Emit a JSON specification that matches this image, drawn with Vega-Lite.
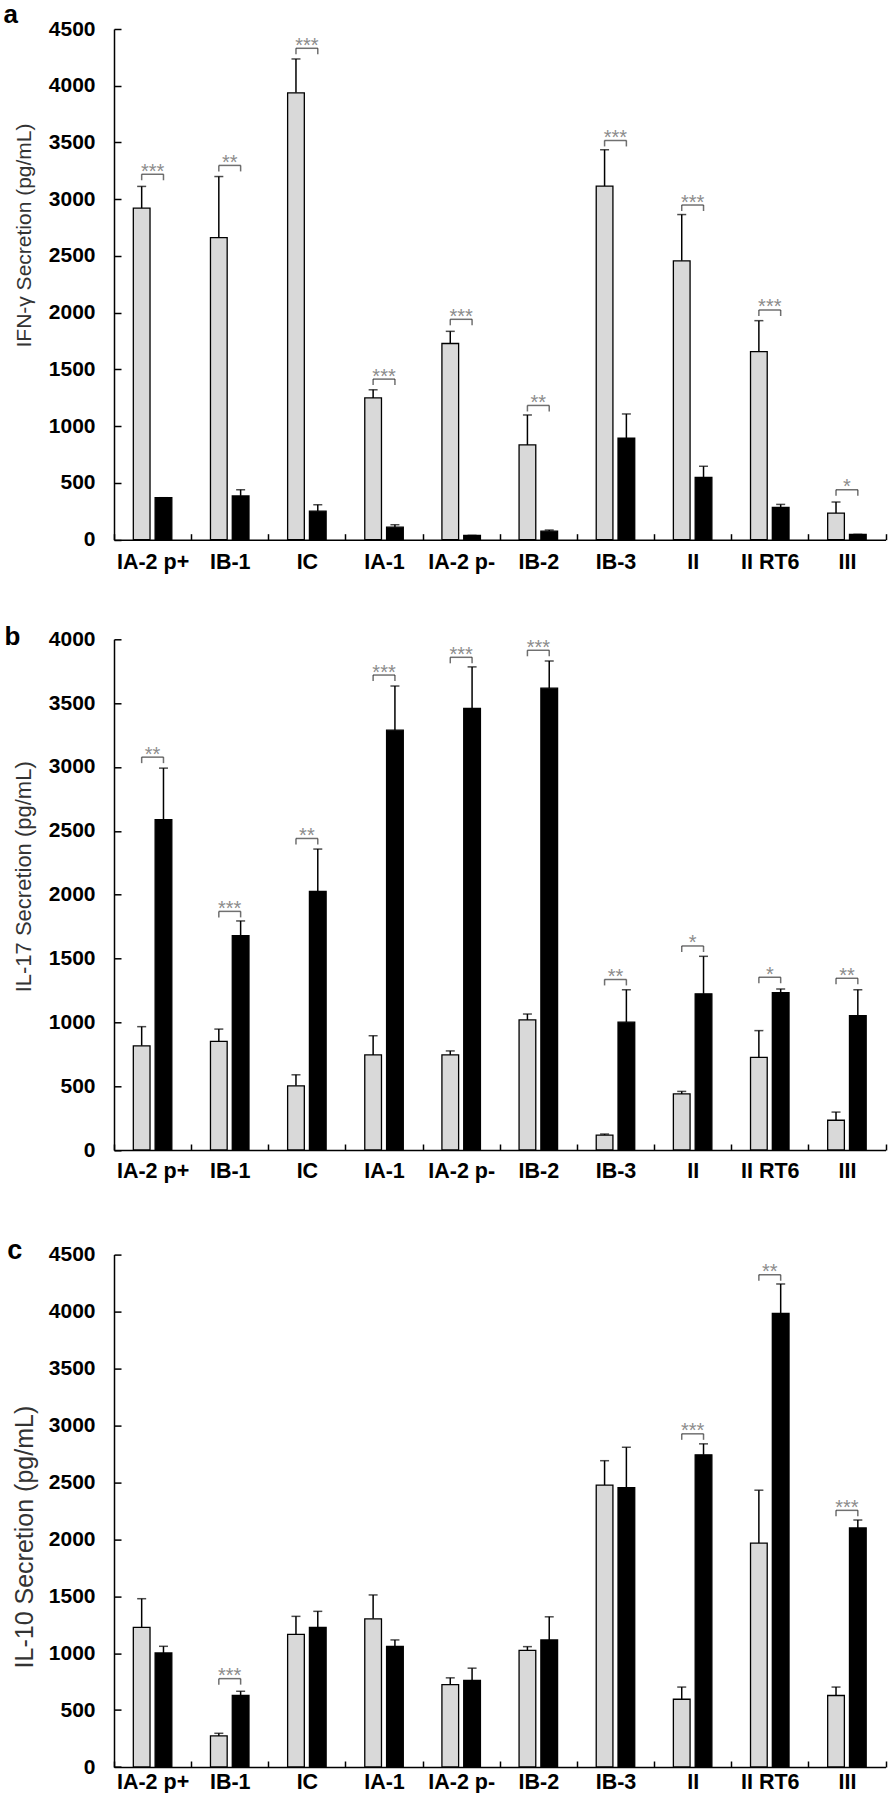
{
"$schema": "https://vega.github.io/schema/vega-lite/v6.json",
"padding": {"left": 3, "top": 2, "right": 0, "bottom": 0},
"background": "white",
"config": {"view": {"stroke": null}, "axis": {"grid": false}, "font": "Liberation Sans"},
"datasets": {
"bars": [
{"panel":"a","cat":"IA-2 p+","group":"Group 1","value":2921,"upper":3113},
{"panel":"a","cat":"IA-2 p+","group":"Group 2","value":370,"upper":370},
{"panel":"a","cat":"IB-1","group":"Group 1","value":2661,"upper":3200},
{"panel":"a","cat":"IB-1","group":"Group 2","value":386,"upper":440},
{"panel":"a","cat":"IC","group":"Group 1","value":3938,"upper":4236},
{"panel":"a","cat":"IC","group":"Group 2","value":251,"upper":308},
{"panel":"a","cat":"IA-1","group":"Group 1","value":1249,"upper":1321},
{"panel":"a","cat":"IA-1","group":"Group 2","value":110,"upper":132},
{"panel":"a","cat":"IA-2 p-","group":"Group 1","value":1729,"upper":1836},
{"panel":"a","cat":"IA-2 p-","group":"Group 2","value":38,"upper":38},
{"panel":"a","cat":"IB-2","group":"Group 1","value":835,"upper":1099},
{"panel":"a","cat":"IB-2","group":"Group 2","value":75,"upper":85},
{"panel":"a","cat":"IB-3","group":"Group 1","value":3116,"upper":3436},
{"panel":"a","cat":"IB-3","group":"Group 2","value":894,"upper":1108},
{"panel":"a","cat":"II","group":"Group 1","value":2457,"upper":2865},
{"panel":"a","cat":"II","group":"Group 2","value":549,"upper":647},
{"panel":"a","cat":"II RT6","group":"Group 1","value":1657,"upper":1930},
{"panel":"a","cat":"II RT6","group":"Group 2","value":285,"upper":311},
{"panel":"a","cat":"III","group":"Group 1","value":235,"upper":332},
{"panel":"a","cat":"III","group":"Group 2","value":47,"upper":47},
{"panel":"b","cat":"IA-2 p+","group":"Group 1","value":816,"upper":966},
{"panel":"b","cat":"IA-2 p+","group":"Group 2","value":2587,"upper":2991},
{"panel":"b","cat":"IB-1","group":"Group 1","value":851,"upper":947},
{"panel":"b","cat":"IB-1","group":"Group 2","value":1679,"upper":1794},
{"panel":"b","cat":"IC","group":"Group 1","value":503,"upper":589},
{"panel":"b","cat":"IC","group":"Group 2","value":2025,"upper":2357},
{"panel":"b","cat":"IA-1","group":"Group 1","value":745,"upper":895},
{"panel":"b","cat":"IA-1","group":"Group 2","value":3288,"upper":3634},
{"panel":"b","cat":"IA-2 p-","group":"Group 1","value":745,"upper":776},
{"panel":"b","cat":"IA-2 p-","group":"Group 2","value":3458,"upper":3784},
{"panel":"b","cat":"IB-2","group":"Group 1","value":1019,"upper":1065},
{"panel":"b","cat":"IB-2","group":"Group 2","value":3617,"upper":3830},
{"panel":"b","cat":"IB-3","group":"Group 1","value":116,"upper":125},
{"panel":"b","cat":"IB-3","group":"Group 2","value":1001,"upper":1255},
{"panel":"b","cat":"II","group":"Group 1","value":439,"upper":459},
{"panel":"b","cat":"II","group":"Group 2","value":1223,"upper":1517},
{"panel":"b","cat":"II RT6","group":"Group 1","value":725,"upper":935},
{"panel":"b","cat":"II RT6","group":"Group 2","value":1232,"upper":1261},
{"panel":"b","cat":"III","group":"Group 1","value":233,"upper":297},
{"panel":"b","cat":"III","group":"Group 2","value":1053,"upper":1255},
{"panel":"c","cat":"IA-2 p+","group":"Group 1","value":1227,"upper":1478},
{"panel":"c","cat":"IA-2 p+","group":"Group 2","value":1001,"upper":1060},
{"panel":"c","cat":"IB-1","group":"Group 1","value":273,"upper":296},
{"panel":"c","cat":"IB-1","group":"Group 2","value":628,"upper":665},
{"panel":"c","cat":"IC","group":"Group 1","value":1164,"upper":1323},
{"panel":"c","cat":"IC","group":"Group 2","value":1227,"upper":1367},
{"panel":"c","cat":"IA-1","group":"Group 1","value":1301,"upper":1511},
{"panel":"c","cat":"IA-1","group":"Group 2","value":1060,"upper":1116},
{"panel":"c","cat":"IA-2 p-","group":"Group 1","value":724,"upper":783},
{"panel":"c","cat":"IA-2 p-","group":"Group 2","value":761,"upper":868},
{"panel":"c","cat":"IB-2","group":"Group 1","value":1024,"upper":1057},
{"panel":"c","cat":"IB-2","group":"Group 2","value":1116,"upper":1319},
{"panel":"c","cat":"IB-3","group":"Group 1","value":2476,"upper":2690},
{"panel":"c","cat":"IB-3","group":"Group 2","value":2453,"upper":2808},
{"panel":"c","cat":"II","group":"Group 1","value":595,"upper":702},
{"panel":"c","cat":"II","group":"Group 2","value":2742,"upper":2838},
{"panel":"c","cat":"II RT6","group":"Group 1","value":1966,"upper":2431},
{"panel":"c","cat":"II RT6","group":"Group 2","value":3983,"upper":4242},
{"panel":"c","cat":"III","group":"Group 1","value":628,"upper":702},
{"panel":"c","cat":"III","group":"Group 2","value":2099,"upper":2169}
],
"sig": [
{"panel":"a","cat":"IA-2 p+","sig":"***","bracket":3220},
{"panel":"a","cat":"IB-1","sig":"**","bracket":3298},
{"panel":"a","cat":"IC","sig":"***","bracket":4330},
{"panel":"a","cat":"IA-1","sig":"***","bracket":1415},
{"panel":"a","cat":"IA-2 p-","sig":"***","bracket":1942},
{"panel":"a","cat":"IB-2","sig":"**","bracket":1183},
{"panel":"a","cat":"IB-3","sig":"***","bracket":3518},
{"panel":"a","cat":"II","sig":"***","bracket":2949},
{"panel":"a","cat":"II RT6","sig":"***","bracket":2024},
{"panel":"a","cat":"III","sig":"*","bracket":440},
{"panel":"b","cat":"IA-2 p+","sig":"**","bracket":3077},
{"panel":"b","cat":"IB-1","sig":"***","bracket":1869},
{"panel":"b","cat":"IC","sig":"**","bracket":2440},
{"panel":"b","cat":"IA-1","sig":"***","bracket":3720},
{"panel":"b","cat":"IA-2 p-","sig":"***","bracket":3859},
{"panel":"b","cat":"IB-2","sig":"***","bracket":3914},
{"panel":"b","cat":"IB-3","sig":"**","bracket":1336},
{"panel":"b","cat":"II","sig":"*","bracket":1598},
{"panel":"b","cat":"II RT6","sig":"*","bracket":1353},
{"panel":"b","cat":"III","sig":"**","bracket":1345},
{"panel":"c","cat":"IB-1","sig":"***","bracket":776},
{"panel":"c","cat":"II","sig":"***","bracket":2926},
{"panel":"c","cat":"II RT6","sig":"**","bracket":4323},
{"panel":"c","cat":"III","sig":"***","bracket":2254}
]
},
"bounds": "flush",
"spacing": 99.3,
"vconcat": [
{
"width": 771.5, "height": 510.7,
"title": {"text": "a", "orient": "left", "anchor": "end", "frame": "group", "angle": 0, "align": "left", "baseline": "alphabetic", "offset": -4, "dy": -6, "fontSize": 26, "fontWeight": "bold", "font": "Liberation Sans", "color": "black"},
"encoding": {
"x": {"field": "cat", "type": "nominal", "sort": ["IA-2 p+","IB-1","IC","IA-1","IA-2 p-","IB-2","IB-3","II","II RT6","III"], "scale": {"paddingInner": 0, "paddingOuter": 0},
"axis": {"title": null, "labelAngle": 0, "labelFont": "Liberation Sans", "labelFontSize": 21.5, "labelFontWeight": "bold", "labelColor": "black", "labelPadding": 17.5, "tickSize": -6, "tickBand": "extent", "tickColor": "black", "tickWidth": 1.5, "domainColor": "black", "domainWidth": 1.5}},
"y": {"type": "quantitative", "scale": {"domain": [0, 4500], "nice": false},
"axis": {"title": "IFN-γ Secretion (pg/mL)", "values": [0,500,1000,1500,2000,2500,3000,3500,4000,4500], "format": "d", "labelFont": "Liberation Sans", "labelFontSize": 21, "labelFontWeight": "bold", "labelColor": "black", "labelPadding": 26, "tickSize": -7, "tickColor": "black", "tickWidth": 1.5, "domainColor": "black", "domainWidth": 1.5, "titleFont": "Liberation Sans", "titleFontSize": 21, "titleFontWeight": "normal", "titleColor": "#333333", "titlePadding": 13.4, "titleY": 206}}
},
"layer": [
{"data": {"name": "bars"}, "transform": [{"filter": "datum.panel === 'a'"}], "mark": {"type": "rule", "color": "black", "strokeWidth": 1.5},
 "encoding": {"xOffset": {"field": "group", "type": "nominal", "scale": {"domain": ["Group 1","Group 2"], "paddingInner": 0.234, "paddingOuter": 0.886}}, "y": {"field": "value"}, "y2": {"field": "upper"}}},
{"data": {"name": "bars"}, "transform": [{"filter": "datum.panel === 'a'"}], "mark": {"type": "tick", "color": "black", "thickness": 1.5, "size": 9},
 "encoding": {"xOffset": {"field": "group", "type": "nominal"}, "y": {"field": "upper"}}},
{"data": {"name": "bars"}, "transform": [{"filter": "datum.panel === 'a'"}], "mark": {"type": "bar", "stroke": "black", "strokeWidth": 1.3},
 "encoding": {"xOffset": {"field": "group", "type": "nominal"}, "y": {"field": "value"}, "fill": {"field": "group", "type": "nominal", "scale": {"domain": ["Group 1","Group 2"], "range": ["#d9d9d9","#000000"]}, "legend": null}}},
{"data": {"name": "sig"}, "transform": [{"filter": "datum.panel === 'a'"}], "mark": {"type": "tick", "color": "#333333", "thickness": 1.5, "size": 22},
 "encoding": {"y": {"field": "bracket"}}},
{"data": {"name": "sig"}, "transform": [{"filter": "datum.panel === 'a'"}], "mark": {"type": "tick", "orient": "vertical", "color": "#333333", "thickness": 1.5, "size": 6, "yOffset": 3},
 "encoding": {"xOffset": {"datum": "Group 1", "type": "nominal"}, "y": {"field": "bracket"}}},
{"data": {"name": "sig"}, "transform": [{"filter": "datum.panel === 'a'"}], "mark": {"type": "tick", "orient": "vertical", "color": "#333333", "thickness": 1.5, "size": 6, "yOffset": 3},
 "encoding": {"xOffset": {"datum": "Group 2", "type": "nominal"}, "y": {"field": "bracket"}}},
{"data": {"name": "sig"}, "transform": [{"filter": "datum.panel === 'a'"}], "mark": {"type": "text", "color": "#8c8c8c", "fontSize": 20, "font": "Liberation Sans", "baseline": "alphabetic", "dy": 3.5},
 "encoding": {"y": {"field": "bracket"}, "text": {"field": "sig"}}}
]
},
{
"bounds": "flush",
"spacing": 104.3,
"vconcat": [
{
"width": 771.5, "height": 510.7,
"title": {"text": "b", "orient": "left", "anchor": "end", "frame": "group", "angle": 0, "align": "left", "baseline": "alphabetic", "offset": -7.9, "dy": 6, "fontSize": 26, "fontWeight": "bold", "font": "Liberation Sans", "color": "black"},
"encoding": {
"x": {"field": "cat", "type": "nominal", "sort": ["IA-2 p+","IB-1","IC","IA-1","IA-2 p-","IB-2","IB-3","II","II RT6","III"], "scale": {"paddingInner": 0, "paddingOuter": 0},
"axis": {"title": null, "labelAngle": 0, "labelFont": "Liberation Sans", "labelFontSize": 21.5, "labelFontWeight": "bold", "labelColor": "black", "labelPadding": 16, "tickSize": -6, "tickBand": "extent", "tickColor": "black", "tickWidth": 1.5, "domainColor": "black", "domainWidth": 1.5}},
"y": {"type": "quantitative", "scale": {"domain": [0, 4000], "nice": false},
"axis": {"title": "IL-17 Secretion (pg/mL)", "values": [0,500,1000,1500,2000,2500,3000,3500,4000], "format": "d", "labelFont": "Liberation Sans", "labelFontSize": 21, "labelFontWeight": "bold", "labelColor": "black", "labelPadding": 26, "tickSize": -7, "tickColor": "black", "tickWidth": 1.5, "domainColor": "black", "domainWidth": 1.5, "titleFont": "Liberation Sans", "titleFontSize": 22, "titleFontWeight": "normal", "titleColor": "#333333", "titlePadding": 12.8, "titleY": 237}}
},
"layer": [
{"data": {"name": "bars"}, "transform": [{"filter": "datum.panel === 'b'"}], "mark": {"type": "rule", "color": "black", "strokeWidth": 1.5},
 "encoding": {"xOffset": {"field": "group", "type": "nominal", "scale": {"domain": ["Group 1","Group 2"], "paddingInner": 0.234, "paddingOuter": 0.886}}, "y": {"field": "value"}, "y2": {"field": "upper"}}},
{"data": {"name": "bars"}, "transform": [{"filter": "datum.panel === 'b'"}], "mark": {"type": "tick", "color": "black", "thickness": 1.5, "size": 9},
 "encoding": {"xOffset": {"field": "group", "type": "nominal"}, "y": {"field": "upper"}}},
{"data": {"name": "bars"}, "transform": [{"filter": "datum.panel === 'b'"}], "mark": {"type": "bar", "stroke": "black", "strokeWidth": 1.3},
 "encoding": {"xOffset": {"field": "group", "type": "nominal"}, "y": {"field": "value"}, "fill": {"field": "group", "type": "nominal", "scale": {"domain": ["Group 1","Group 2"], "range": ["#d9d9d9","#000000"]}, "legend": null}}},
{"data": {"name": "sig"}, "transform": [{"filter": "datum.panel === 'b'"}], "mark": {"type": "tick", "color": "#333333", "thickness": 1.5, "size": 22},
 "encoding": {"y": {"field": "bracket"}}},
{"data": {"name": "sig"}, "transform": [{"filter": "datum.panel === 'b'"}], "mark": {"type": "tick", "orient": "vertical", "color": "#333333", "thickness": 1.5, "size": 6, "yOffset": 3},
 "encoding": {"xOffset": {"datum": "Group 1", "type": "nominal"}, "y": {"field": "bracket"}}},
{"data": {"name": "sig"}, "transform": [{"filter": "datum.panel === 'b'"}], "mark": {"type": "tick", "orient": "vertical", "color": "#333333", "thickness": 1.5, "size": 6, "yOffset": 3},
 "encoding": {"xOffset": {"datum": "Group 2", "type": "nominal"}, "y": {"field": "bracket"}}},
{"data": {"name": "sig"}, "transform": [{"filter": "datum.panel === 'b'"}], "mark": {"type": "text", "color": "#8c8c8c", "fontSize": 20, "font": "Liberation Sans", "baseline": "alphabetic", "dy": 3.5},
 "encoding": {"y": {"field": "bracket"}, "text": {"field": "sig"}}}
]
},
{
"width": 771.5, "height": 512.4,
"title": {"text": "c", "orient": "left", "anchor": "end", "frame": "group", "angle": 0, "align": "left", "baseline": "alphabetic", "offset": -10.1, "dy": 4, "fontSize": 27, "fontWeight": "bold", "font": "Liberation Sans", "color": "black"},
"encoding": {
"x": {"field": "cat", "type": "nominal", "sort": ["IA-2 p+","IB-1","IC","IA-1","IA-2 p-","IB-2","IB-3","II","II RT6","III"], "scale": {"paddingInner": 0, "paddingOuter": 0},
"axis": {"title": null, "labelAngle": 0, "labelFont": "Liberation Sans", "labelFontSize": 21.5, "labelFontWeight": "bold", "labelColor": "black", "labelPadding": 10.5, "tickSize": -6, "tickBand": "extent", "tickColor": "black", "tickWidth": 1.5, "domainColor": "black", "domainWidth": 1.5}},
"y": {"type": "quantitative", "scale": {"domain": [0, 4500], "nice": false},
"axis": {"title": "IL-10 Secretion (pg/mL)", "values": [0,500,1000,1500,2000,2500,3000,3500,4000,4500], "format": "d", "labelFont": "Liberation Sans", "labelFontSize": 21, "labelFontWeight": "bold", "labelColor": "black", "labelPadding": 26, "tickSize": -7, "tickColor": "black", "tickWidth": 1.5, "domainColor": "black", "domainWidth": 1.5, "titleFont": "Liberation Sans", "titleFontSize": 25, "titleFontWeight": "normal", "titleColor": "#333333", "titlePadding": 11.1, "titleY": 282}}
},
"layer": [
{"data": {"name": "bars"}, "transform": [{"filter": "datum.panel === 'c'"}], "mark": {"type": "rule", "color": "black", "strokeWidth": 1.5},
 "encoding": {"xOffset": {"field": "group", "type": "nominal", "scale": {"domain": ["Group 1","Group 2"], "paddingInner": 0.234, "paddingOuter": 0.886}}, "y": {"field": "value"}, "y2": {"field": "upper"}}},
{"data": {"name": "bars"}, "transform": [{"filter": "datum.panel === 'c'"}], "mark": {"type": "tick", "color": "black", "thickness": 1.5, "size": 9},
 "encoding": {"xOffset": {"field": "group", "type": "nominal"}, "y": {"field": "upper"}}},
{"data": {"name": "bars"}, "transform": [{"filter": "datum.panel === 'c'"}], "mark": {"type": "bar", "stroke": "black", "strokeWidth": 1.3},
 "encoding": {"xOffset": {"field": "group", "type": "nominal"}, "y": {"field": "value"}, "fill": {"field": "group", "type": "nominal", "scale": {"domain": ["Group 1","Group 2"], "range": ["#d9d9d9","#000000"]}, "legend": null}}},
{"data": {"name": "sig"}, "transform": [{"filter": "datum.panel === 'c'"}], "mark": {"type": "tick", "color": "#333333", "thickness": 1.5, "size": 22},
 "encoding": {"y": {"field": "bracket"}}},
{"data": {"name": "sig"}, "transform": [{"filter": "datum.panel === 'c'"}], "mark": {"type": "tick", "orient": "vertical", "color": "#333333", "thickness": 1.5, "size": 6, "yOffset": 3},
 "encoding": {"xOffset": {"datum": "Group 1", "type": "nominal"}, "y": {"field": "bracket"}}},
{"data": {"name": "sig"}, "transform": [{"filter": "datum.panel === 'c'"}], "mark": {"type": "tick", "orient": "vertical", "color": "#333333", "thickness": 1.5, "size": 6, "yOffset": 3},
 "encoding": {"xOffset": {"datum": "Group 2", "type": "nominal"}, "y": {"field": "bracket"}}},
{"data": {"name": "sig"}, "transform": [{"filter": "datum.panel === 'c'"}], "mark": {"type": "text", "color": "#8c8c8c", "fontSize": 20, "font": "Liberation Sans", "baseline": "alphabetic", "dy": 3.5},
 "encoding": {"y": {"field": "bracket"}, "text": {"field": "sig"}}}
]
}
]
}
]
}
